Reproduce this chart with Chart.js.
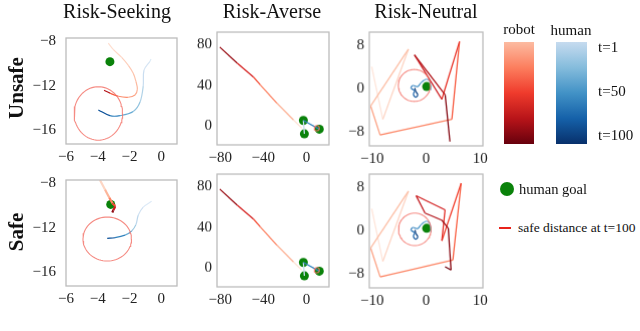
<!DOCTYPE html>
<html><head><meta charset="utf-8">
<script src="https://cdn.jsdelivr.net/npm/chart.js@4/dist/chart.umd.min.js"></script>
<style>
html,body{margin:0;padding:0;background:#fff;width:640px;height:331px;overflow:hidden;position:relative;font-family:"Liberation Serif",serif;color:#111}
canvas{position:absolute}
.c{position:absolute;white-space:nowrap;transform:translate(-50%,-50%);line-height:1}
.l{position:absolute;white-space:nowrap;transform:translate(0,-50%);line-height:1}
.bar{position:absolute}
</style></head><body>
<canvas id="pA"></canvas><canvas id="pB"></canvas><canvas id="pC"></canvas>
<canvas id="pD"></canvas><canvas id="pE"></canvas><canvas id="pF"></canvas>
<div class="c" style="left:117px;top:11px;font-size:20px">Risk-Seeking</div>
<div class="c" style="left:272px;top:11px;font-size:20px">Risk-Averse</div>
<div class="c" style="left:426px;top:11px;font-size:20px">Risk-Neutral</div>
<div class="c" style="left:16px;top:88px;font-size:21px;font-weight:bold;transform:translate(-50%,-50%) rotate(-90deg)">Unsafe</div>
<div class="c" style="left:16px;top:232px;font-size:21px;font-weight:bold;transform:translate(-50%,-50%) rotate(-90deg)">Safe</div>
<div class="c" style="left:519px;top:29px;font-size:15px">robot</div>
<div class="c" style="left:571px;top:30px;font-size:15px">human</div>
<div class="bar" id="barR" style="left:504px;top:42px;width:30px;height:102px"></div>
<div class="bar" id="barH" style="left:556px;top:42px;width:31px;height:102px"></div>
<div class="l" style="left:598px;top:47px;font-size:15px">t=1</div>
<div class="l" style="left:598px;top:91px;font-size:15px">t=50</div>
<div class="l" style="left:598px;top:135px;font-size:15px">t=100</div>
<div style="position:absolute;left:500px;top:182px;width:14px;height:14px;border-radius:50%;background:#0a820a"></div>
<div class="l" style="left:519px;top:189px;font-size:14.5px">human goal</div>
<div style="position:absolute;left:499px;top:227px;width:12px;height:2px;background:#e8231b"></div>
<div class="l" style="left:518px;top:228px;font-size:13.5px">safe distance at t=100</div>
<script>
// ---------- data ----------
// Risk-Seeking / Unsafe
const seekUnsafeRobotX = [-3.33,-3.02,-2.49,-2.07,-1.76,-1.59,-1.50,-1.65,-2.07,-2.70,-3.23,-3.60];
const seekUnsafeRobotY = [-8.16,-8.73,-9.45,-10.17,-10.88,-11.6,-12.32,-12.84,-13.04,-12.95,-12.67,-12.41];
const seekUnsafeRobotT = [1,3,6,9,12,15,18,22,27,36,60,100];
const seekUnsafeHumanX = [-0.64,-0.70,-1.08,-1.13,-1.33,-1.76,-2.60,-3.23,-3.96];
const seekUnsafeHumanY = [-9.6,-9.79,-10.6,-12.03,-13.47,-14.33,-14.70,-14.70,-14.18];
const seekUnsafeHumanT = [1,5,12,20,30,40,55,75,100];
const seekUnsafeGoal = [-3.23,-9.83];
const seekUnsafeCircle = [-3.96,-14.5,1.53,2.41];
// Risk-Seeking / Safe
const seekSafeRobotX = [-3.86,-3.54,-3.27,-3.06,-2.91,-3.02,-3.08];
const seekSafeRobotY = [-7.7,-8.56,-9.28,-9.8,-10.08,-10.43,-10.63];
const seekSafeRobotT = [1,10,25,45,62,82,100];
const seekSafeHumanX = [-0.60,-1.13,-1.44,-1.59,-1.86,-2.28,-2.91,-3.40];
const seekSafeHumanY = [-9.62,-10.14,-10.86,-11.72,-12.29,-12.67,-12.9,-12.96];
const seekSafeHumanT = [1,8,16,25,38,55,75,100];
const seekSafeGoal = [-3.18,-9.9];
const seekSafeCircle = [-3.40,-13.02,1.53,1.98];
// Risk-Averse (same in both rows)
const averseRobotX = [-4.3,-12.0,-27.4,-42.8,-49.0,-64.3,-80.4];
const averseRobotY = [-2.2,5.9,22.3,40.3,47.8,61.6,77.3];
const averseRobotT = [1,17,34,50,62,80,100];
const averseHumanX = [-1.85,-2.8,12.0];
const averseHumanY = [-7.8,5.3,-3.2];
const averseHumanT = [1,30,100];
const averseGoalX = [-2.8,-1.85,12.0];
const averseGoalY = [5.3,-7.8,-3.2];
const averseCircle = [9.6,-2.2,2.5,2.6];
// Risk-Neutral / Unsafe
const neutUnsafeRobotX = [-10.06,-8.0,-3.27,-10.25,-8.5,4.75,6.17,2.9,-2.16,3.52,4.4];
const neutUnsafeRobotY = [4.1,-5.6,7.35,-3.15,-8.5,-5.6,8.76,-1.9,6.3,-1.1,-9.7];
const neutUnsafeRobotT = [1,8,16,24,32,45,58,68,78,88,100];
const neutUnsafeHumanX = [0.9,0.7,0.2,-0.4,-0.99,-1.6,-2.45,-2.8,-2.15,-2.35,-1.95,-1.55,-1.9,-2.1];
const neutUnsafeHumanY = [-0.2,1.3,1.8,1.6,1.1,0.45,0.65,0.15,-0.3,-1.0,-1.5,-1.1,-0.45,0.2];
const neutUnsafeHumanT = [1,8,15,22,30,38,46,54,62,70,78,86,93,100];
const neutUnsafeGoal = [0.1,0.45];
const neutUnsafeCircle = [-2.19,0.65,2.95,2.95];
// Risk-Neutral / Safe
const neutSafeRobotX = [-10.06,-8.0,-3.27,-10.25,-8.5,4.94,6.48,2.9,3.5,-1.85,-0.2,2.9,4.1,4.6,3.5];
const neutSafeRobotY = [4.1,-5.6,7.35,-3.15,-8.46,-5.37,8.83,-1.8,3.9,6.5,3.3,2.0,0.5,-7.2,-6.6];
const neutSafeRobotT = [1,8,16,24,32,45,55,62,68,74,80,85,90,96,100];
const neutSafeHumanX = [0.9,0.7,0.2,-0.4,-0.99,-1.6,-2.45,-2.8,-2.15,-2.35,-1.95,-1.55,-1.9,-2.05];
const neutSafeHumanY = [-0.2,1.3,1.8,1.6,1.1,0.45,0.65,0.15,-0.3,-1.0,-1.5,-1.1,-0.45,0.2];
const neutSafeHumanT = [1,8,15,22,30,38,46,54,62,70,78,86,93,100];
const neutSafeGoal = [0.1,0.5];
const neutSafeCircle = [-2.1,0.3,3.0,3.0];
// ticks
const seekXTicks = [-6,-4,-2,0], seekYTicks = [-16,-12,-8];
const averseXTicks = [-80,-40,0], averseYTicks = [0,40,80];
const neutXTicks = [-10,0,10], neutYTicks = [-8,0,8];
const seekXRange = [-6,1], seekYRange = [-17.25,-7.7];
const averseXRange = [-83,21], averseYRange = [-18.6,92];
const neutXRange = [-10.5,10.5], neutYRange = [-10.5,10.5];

// ---------- styling helpers ----------
const REDS = ['#fff5f0','#fee0d2','#fcbba1','#fc9272','#fb6a4a','#ef3b2c','#cb181d','#a50f15','#67000d'];
const BLUES = ['#f7fbff','#deebf7','#c6dbef','#9ecae1','#6baed6','#4292c6','#2171b5','#08519c','#08306b'];
function hex(h){return [1,3,5].map(i=>parseInt(h.substr(i,2),16));}
function cmap(stops,f){f=Math.max(0,Math.min(1,f));const p=f*(stops.length-1);const i=Math.min(Math.floor(p),stops.length-2);const t=p-i;const a=hex(stops[i]),b=hex(stops[i+1]);return 'rgb('+a.map((v,k)=>Math.round(v+(b[k]-v)*t)).join(',')+')';}
document.getElementById('barR').style.background='linear-gradient(to bottom,'+[0,0.25,0.5,0.75,1].map(f=>cmap(REDS,0.25+0.75*f)).join(',')+')';
document.getElementById('barH').style.background='linear-gradient(to bottom,'+[0,0.25,0.5,0.75,1].map(f=>cmap(BLUES,0.25+0.75*f)).join(',')+')';

function traj(xs,ys,ts,stops,lo,w){
  return {data:xs.map((x,i)=>({x,y:ys[i]})),showLine:true,pointRadius:0,borderWidth:w||1.2,tension:0.35,
    borderColor:cmap(stops,0.6),
    segment:{borderColor:ctx=>{const t=(ts[ctx.p0DataIndex]+ts[ctx.p1DataIndex])/2;return cmap(stops,lo+(1-lo)*(t-1)/99);}}};
}
function straight(xs,ys,ts,stops,lo,w){const d=traj(xs,ys,ts,stops,lo,w||1.3);d.tension=0;return d;}
function circle(c){const pts=[];for(let k=0;k<=72;k++){const a=k/72*2*Math.PI;pts.push({x:c[0]+c[2]*Math.cos(a),y:c[1]+c[3]*Math.sin(a)});}
  return {data:pts,showLine:true,pointRadius:0,borderWidth:1.1,borderColor:'rgba(242,110,100,0.8)',tension:0};}
function dots(xs,ys,r){return {data:xs.map((x,i)=>({x,y:ys[i]})),showLine:false,pointRadius:r,pointBackgroundColor:'#0a820a',pointBorderWidth:0};}

const frame={id:'frame',afterDatasetsDraw(c){const a=c.chartArea,x=c.ctx;x.save();x.strokeStyle='#bcbcbc';x.lineWidth=1.3;x.strokeRect(a.left,a.top,a.right-a.left,a.bottom-a.top);x.restore();}};
const fmt=v=>(v<0?'\u2212':'')+Math.abs(v);
const tickFont={family:'Liberation Serif',size:15};

function panel(id,box,xr,yr,xt,yt,datasets,ypad){
  const cv=document.getElementById(id);const L=55,T=14,R=14,B=26;
  const w=box[2]-box[0]+L+R,h=box[3]-box[1]+T+B;
  cv.style.left=(box[0]-L)+'px';cv.style.top=(box[1]-T)+'px';
  cv.width=w;cv.height=h;cv.style.width=w+'px';cv.style.height=h+'px';
  new Chart(cv,{type:'line',data:{datasets},options:{
    responsive:false,animation:false,devicePixelRatio:1,
    layout:{padding:{top:T,right:R,left:0,bottom:0}},
    plugins:{legend:{display:false},tooltip:{enabled:false}},
    scales:{
      x:{type:'linear',min:xr[0],max:xr[1],grid:{display:false,drawTicks:false},border:{display:false},
        afterBuildTicks:a=>{a.ticks=xt.map(v=>({value:v}));},afterFit:s=>{s.height=B;},
        ticks:{font:tickFont,color:'#222',padding:4,callback:fmt,maxRotation:0,autoSkip:false}},
      y:{type:'linear',min:yr[0],max:yr[1],grid:{display:false,drawTicks:false},border:{display:false},
        afterBuildTicks:a=>{a.ticks=yt.map(v=>({value:v}));},afterFit:s=>{s.width=L;},
        ticks:{font:tickFont,color:'#222',padding:ypad,callback:fmt,autoSkip:false}}
    }},plugins:[frame]});
}

panel('pA',[66,33,177,144],seekXRange,seekYRange,seekXTicks,seekYTicks,[
  circle(seekUnsafeCircle),
  traj(seekUnsafeRobotX,seekUnsafeRobotY,seekUnsafeRobotT,REDS,0.12),
  traj(seekUnsafeHumanX,seekUnsafeHumanY,seekUnsafeHumanT,BLUES,0.1),
  dots([seekUnsafeGoal[0]],[seekUnsafeGoal[1]],4.5)],10);
panel('pD',[66,175,177,286],seekXRange,seekYRange,seekXTicks,seekYTicks,[
  circle(seekSafeCircle),
  traj(seekSafeRobotX,seekSafeRobotY,seekSafeRobotT,REDS,0.12,2.2),
  traj(seekSafeHumanX,seekSafeHumanY,seekSafeHumanT,BLUES,0.1),
  dots([seekSafeGoal[0]],[seekSafeGoal[1]],4.5)],10);
panel('pB',[216.5,32.3,329,145],averseXRange,averseYRange,averseXTicks,averseYTicks,[
  circle(averseCircle),
  straight(averseRobotX,averseRobotY,averseRobotT,REDS,0.03),
  straight(averseHumanX,averseHumanY,averseHumanT,BLUES,0.1),
  dots(averseGoalX,averseGoalY,4.5)],5);
panel('pE',[216.5,174.3,329,286.7],averseXRange,averseYRange,averseXTicks,averseYTicks,[
  circle(averseCircle),
  straight(averseRobotX,averseRobotY,averseRobotT,REDS,0.03),
  straight(averseHumanX,averseHumanY,averseHumanT,BLUES,0.1),
  dots(averseGoalX,averseGoalY,4.5)],5);
panel('pC',[369.3,32.3,482.7,145.7],neutXRange,neutYRange,neutXTicks,neutYTicks,[
  circle(neutUnsafeCircle),
  straight(neutUnsafeRobotX,neutUnsafeRobotY,neutUnsafeRobotT,REDS,0.06),
  traj(neutUnsafeHumanX,neutUnsafeHumanY,neutUnsafeHumanT,BLUES,0.45,1.2),
  dots([neutUnsafeGoal[0]],[neutUnsafeGoal[1]],4.5)],5);
panel('pF',[369.3,174.3,482.7,287.7],neutXRange,neutYRange,neutXTicks,neutYTicks,[
  circle(neutSafeCircle),
  straight(neutSafeRobotX,neutSafeRobotY,neutSafeRobotT,REDS,0.06),
  traj(neutSafeHumanX,neutSafeHumanY,neutSafeHumanT,BLUES,0.45,1.2),
  dots([neutSafeGoal[0]],[neutSafeGoal[1]],4.5)],5);
</script>
</body></html>
